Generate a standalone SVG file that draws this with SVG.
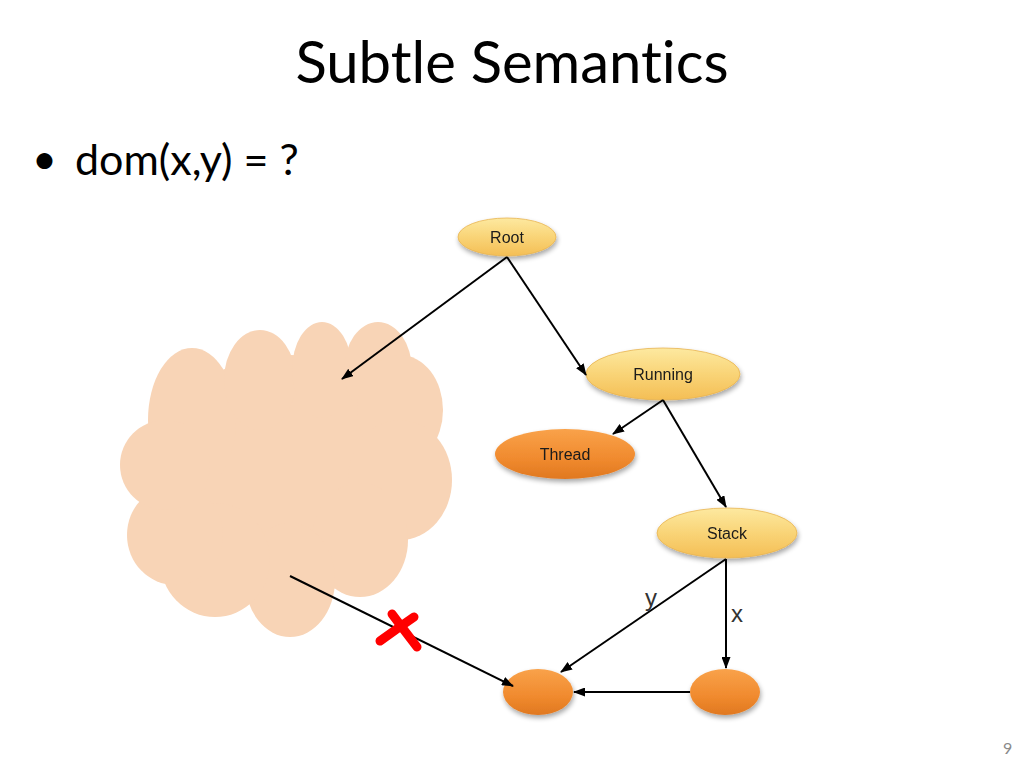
<svg xmlns="http://www.w3.org/2000/svg" width="1024" height="768" viewBox="0 0 1024 768">
<defs>
<style>
.title{font-family:Lato,"Open Sans","Liberation Sans",sans-serif;font-size:58px;fill:#000;font-variant-ligatures:none}
.bullet{font-family:Lato,"Open Sans","Liberation Sans",sans-serif;font-size:43px;fill:#000;font-variant-ligatures:none}
.lbl{font-family:"Liberation Sans",Arial,sans-serif;font-size:16px;fill:#1a1a1a;text-anchor:middle}
.elbl{font-family:"Liberation Sans",Arial,sans-serif;font-size:24px;fill:#333}
.edge{stroke:#000;stroke-width:2;fill:none;marker-end:url(#ah)}
.cloud{fill:#F8D4B6}
</style>
<marker id="ah" viewBox="0 0 12 9" refX="11" refY="4.5" markerWidth="12" markerHeight="9" orient="auto" markerUnits="userSpaceOnUse">
<path d="M0,0 L12,4.5 L0,9 z" fill="#000"/>
</marker>
<linearGradient id="yel" x1="0" y1="0" x2="0" y2="1">
<stop offset="0" stop-color="#FDE9A0"/>
<stop offset="0.5" stop-color="#F9D477"/>
<stop offset="1" stop-color="#F4BE55"/>
</linearGradient>
<linearGradient id="org" x1="0" y1="0" x2="0" y2="1">
<stop offset="0" stop-color="#F9A24A"/>
<stop offset="0.6" stop-color="#F08A2E"/>
<stop offset="1" stop-color="#E07820"/>
</linearGradient>
<filter id="sh" x="-20%" y="-30%" width="140%" height="170%">
<feGaussianBlur in="SourceAlpha" stdDeviation="2.5"/>
<feOffset dx="1" dy="3" result="b"/>
<feComponentTransfer><feFuncA type="linear" slope="0.35"/></feComponentTransfer>
<feMerge><feMergeNode/><feMergeNode in="SourceGraphic"/></feMerge>
</filter>
</defs>
<rect width="1024" height="768" fill="#fff"/>
<text class="title" x="512" y="83" text-anchor="middle">Subtle Semantics</text>
<text class="bullet" x="32" y="174" font-size="32">•</text>
<text class="bullet" x="75" y="175">dom(x,y) = ?</text>
<text x="1003" y="754" font-family="Lato,'Liberation Sans',sans-serif" font-size="16" fill="#8a8a8a">9</text>

<g id="cloud" class="cloud">
<ellipse cx="290" cy="475" rx="140" ry="120"/>
<ellipse cx="192" cy="420" rx="44" ry="72"/>
<ellipse cx="260" cy="380" rx="36" ry="50"/>
<ellipse cx="322" cy="370" rx="30" ry="48"/>
<ellipse cx="378" cy="370" rx="34" ry="48"/>
<ellipse cx="400" cy="410" rx="43" ry="55"/>
<ellipse cx="400" cy="480" rx="52" ry="60"/>
<ellipse cx="360" cy="540" rx="48" ry="57"/>
<ellipse cx="290" cy="580" rx="45" ry="57"/>
<ellipse cx="215" cy="560" rx="55" ry="57"/>
<ellipse cx="175" cy="535" rx="48" ry="50"/>
<ellipse cx="165" cy="465" rx="45" ry="45"/>
</g>

<g id="root" filter="url(#sh)">
<ellipse cx="507" cy="237" rx="49" ry="19" fill="url(#yel)" stroke="#E8B450" stroke-width="0.8"/>
<text class="lbl" x="507" y="243">Root</text>
</g>
<g id="running" filter="url(#sh)">
<ellipse cx="663" cy="374" rx="77" ry="26" fill="url(#yel)" stroke="#E8B450" stroke-width="0.8"/>
<text class="lbl" x="663" y="380">Running</text>
</g>
<g id="thread" filter="url(#sh)">
<ellipse cx="565" cy="454" rx="70" ry="25" fill="url(#org)"/>
<text class="lbl" x="565" y="460">Thread</text>
</g>
<g id="stack" filter="url(#sh)">
<ellipse cx="727" cy="533" rx="70" ry="25" fill="url(#yel)" stroke="#E8B450" stroke-width="0.8"/>
<text class="lbl" x="727" y="539">Stack</text>
</g>
<g id="objA" filter="url(#sh)">
<ellipse cx="538" cy="692" rx="35" ry="23" fill="url(#org)"/>
</g>
<g id="objB" filter="url(#sh)">
<ellipse cx="725" cy="692" rx="35" ry="23" fill="url(#org)"/>
</g>

<g id="connectors">
<line class="edge" x1="507" y1="257" x2="342" y2="379"/>
<line class="edge" x1="507" y1="257" x2="586" y2="375"/>
<line class="edge" x1="663" y1="400" x2="613" y2="434"/>
<line class="edge" x1="663" y1="400" x2="726" y2="507"/>
<line class="edge" x1="726" y1="559" x2="561" y2="672"/>
<line class="edge" x1="726" y1="559" x2="726" y2="668"/>
<line class="edge" x1="690" y1="692" x2="574" y2="692"/>
<line class="edge" x1="290" y1="576" x2="513" y2="686"/>
<text class="elbl" x="645" y="606">y</text>
<text class="elbl" x="731" y="622">x</text>
<g id="redx" stroke="#FF0000" stroke-width="9" stroke-linecap="round" fill="none">
<path d="M414,617 Q398,628 380,641"/>
<path d="M392,614 Q404,630 417,647"/>
</g>
</g>
</svg>
